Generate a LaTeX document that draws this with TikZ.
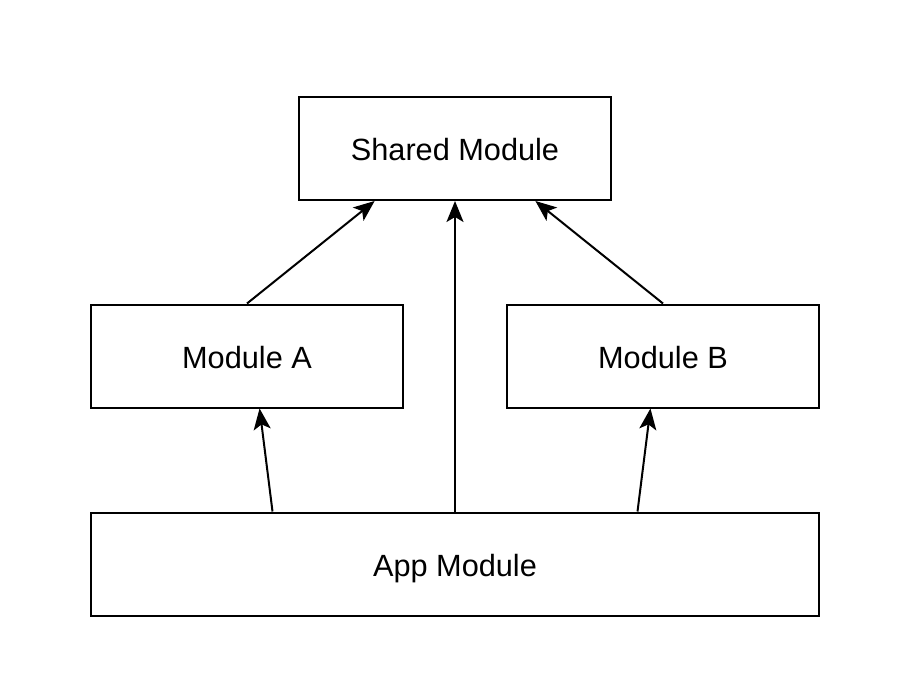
\documentclass[tikz,border=0pt]{standalone}
\usepackage{fontspec}
\setmainfont{Liberation Sans}
\usetikzlibrary{arrows.meta,calc}
\begin{document}
\begin{tikzpicture}[x=1pt,y=-1pt,
  box/.style={draw=black,line width=2pt,fill=white,inner sep=0pt,minimum height=103pt,text height=24pt,text depth=0pt,font=\fontsize{30.7}{36}\selectfont},
  link/.style={line width=2pt,-{Stealth[length=21pt,width=17pt,inset=5pt]}}]
\useasboundingbox (0,0) rectangle (920,674);
\node[box,minimum width=312pt] (shared) at (455,148.5) {Shared Module};
\node[box,minimum width=312pt] (a) at (247,356) {Module A};
\node[box,minimum width=312pt] (b) at (663,356) {Module B};
\node[box,minimum width=728pt] (app) at (455,564) {App Module};
\draw[link] (a.north) -- ($(shared.south west)!0.244!(shared.south east)$);
\draw[link] (b.north) -- ($(shared.south east)!0.244!(shared.south west)$);
\draw[link] (app.north) -- (shared.south);
\draw[link] ($(app.north west)!0.25!(app.north east)$) -- ($(a.south west)!0.54!(a.south east)$);
\draw[link] ($(app.north west)!0.75!(app.north east)$) -- ($(b.south west)!0.46!(b.south east)$);
\end{tikzpicture}
\end{document}
